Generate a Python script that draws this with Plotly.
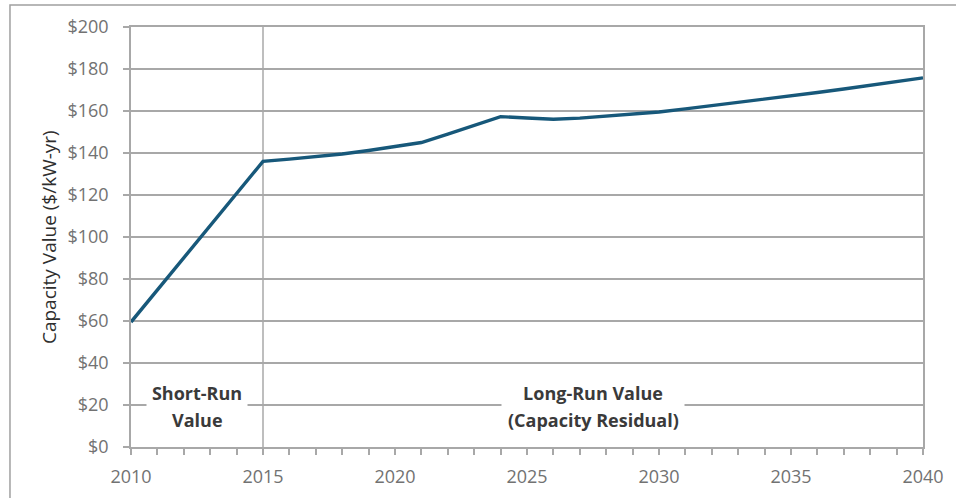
import plotly.graph_objects as go

# Capacity value path, $/kW-yr
years = [2010, 2015, 2016, 2017, 2018, 2019, 2020, 2021, 2022, 2023, 2024,
         2025, 2026, 2027, 2028, 2029, 2030, 2031, 2032, 2033, 2034, 2035,
         2036, 2037, 2038, 2039, 2040]
values = [59.5, 136.0, 137.1, 138.2, 139.5, 141.2, 143.0, 145.0, 149.0, 153.2, 157.3,
          156.7, 156.1, 156.6, 157.6, 158.6, 159.5, 161.0, 162.5, 164.0, 165.6, 167.2,
          168.8, 170.5, 172.3, 174.1, 175.8]

# Phase boundary and labels
phase_split = 2015
phase_labels = [("Short-Run", "Value", 2012.5), ("Long-Run Value", "(Capacity Residual)", 2027.5)]
phase_box_widths = [96, 178]

y_ticks = list(range(0, 201, 20))
y_tick_text = [f"${v}" for v in y_ticks]
x_ticks = list(range(2010, 2041, 5))

GRID = "#a8a8a8"
TICK_FONT = dict(family="Open Sans", size=18, color="#727272")

fig = go.Figure()
fig.add_trace(go.Scatter(
    x=years, y=values, mode="lines",
    line=dict(color="#17587a", width=3.4),
    hoverinfo="skip", showlegend=False,
))

fig.update_layout(
    width=956, height=498,
    margin=dict(l=131, r=33, t=27, b=51),
    paper_bgcolor="white", plot_bgcolor="white",
    xaxis=dict(
        range=[2010, 2040], tickvals=x_ticks, ticks="outside", ticklen=6,
        tickcolor=GRID, tickwidth=1.5, tickfont=TICK_FONT, ticklabelstandoff=7,
        minor=dict(dtick=1, ticks="outside", ticklen=6, tickcolor=GRID, tickwidth=1.5, showgrid=False),
        showgrid=False, zeroline=False, showline=True, linecolor=GRID, linewidth=1.5, mirror=True,
        automargin=False,
    ),
    yaxis=dict(
        range=[0, 200], tickvals=y_ticks, ticktext=y_tick_text, ticks="outside", ticklen=6,
        tickcolor=GRID, tickwidth=1.5, tickfont=TICK_FONT, ticklabelstandoff=11,
        showgrid=True, gridcolor=GRID, gridwidth=1.5, zeroline=False,
        showline=True, linecolor=GRID, linewidth=1.5, mirror=True,
        automargin=False,
    ),
)

# Divider between short-run and long-run periods
fig.add_shape(type="line", xref="x", yref="paper", x0=phase_split, x1=phase_split, y0=0, y1=1,
              line=dict(color=GRID, width=1.5), layer="below")

# Outer frame of the chart
fig.add_shape(type="rect", xref="paper", yref="paper",
              x0=-0.1528, x1=1.06, y0=-0.14, y1=1.0524,
              line=dict(color="#a0a0a0", width=1.5), fillcolor="rgba(0,0,0,0)")

label_font = dict(family="Open Sans", size=18, color="#3a3a3a")
for (line1, line2, xc), w in zip(phase_labels, phase_box_widths):
    fig.add_annotation(x=xc, y=25.7, xref="x", yref="y", text=f"<b>{line1}</b>",
                       showarrow=False, font=label_font, bgcolor="white",
                       width=w, height=26, borderpad=2, xanchor="center", yanchor="middle")
    fig.add_annotation(x=xc, y=12.9, xref="x", yref="y", text=f"<b>{line2}</b>",
                       showarrow=False, font=label_font, xanchor="center", yanchor="middle")

fig.add_annotation(x=-0.1035, y=0.5, xref="paper", yref="paper",
                   text="Capacity Value ($/kW-yr)", textangle=-90, showarrow=False,
                   font=dict(family="Open Sans", size=19, color="#2e2e2e"),
                   xanchor="center", yanchor="middle")

fig.write_html("out.html")
